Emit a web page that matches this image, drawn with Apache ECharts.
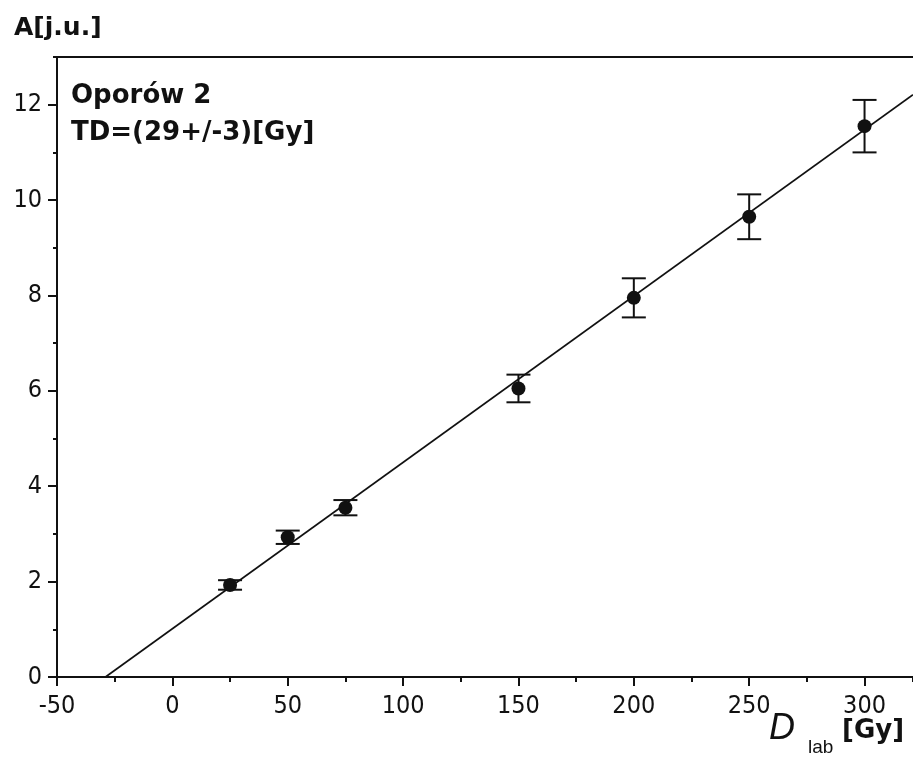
<!DOCTYPE html>
<html><head><meta charset="utf-8">
<script src="https://cdn.jsdelivr.net/npm/echarts@6/dist/echarts.min.js"></script>
<style>html,body{margin:0;padding:0;background:#fff}#c{width:913px;height:760px}</style>
</head><body><div id="c"></div>
<script>
// Data
const doses = [25, 50, 75, 150, 200, 250, 300];
const activity = [1.93, 2.93, 3.55, 6.05, 7.95, 9.65, 11.55];
const errors = [0.10, 0.14, 0.16, 0.29, 0.41, 0.47, 0.55];
const fitX = [-29, 321];
const fitY = [0, 12.21];
const xTicks = [-50, 0, 50, 100, 150, 200, 250, 300];
const yTicks = [0, 2, 4, 6, 8, 10, 12];

const INK = '#111';
const tickFont = {fontFamily: '"Liberation Sans Narrow","DejaVu Sans Condensed",sans-serif', fontSize: 25, color: INK};

const chart = echarts.init(document.getElementById('c'), null, {renderer: 'canvas'});

const xBase = {type: 'value', min: -50, max: 321, gridIndex: 0, splitLine: {show: false}};
const yBase = {type: 'value', min: 0, max: 13, gridIndex: 0, splitLine: {show: false}};

chart.setOption({
  animation: false,
  backgroundColor: '#fff',
  grid: {left: 57, top: 57, right: 0, bottom: 83, containLabel: false},
  xAxis: [
    Object.assign({}, xBase, {
      position: 'bottom',
      axisLine: {onZero: false, lineStyle: {color: INK, width: 2}},
      axisTick: {show: true, customValues: xTicks, length: 9, lineStyle: {color: INK, width: 2}},
      axisLabel: Object.assign({customValues: xTicks, margin: 17}, tickFont)
    }),
    Object.assign({}, xBase, {
      position: 'bottom', interval: 25,
      axisLine: {show: false, onZero: false},
      axisTick: {show: true, length: 5, lineStyle: {color: INK, width: 2}},
      axisLabel: {show: false}
    }),
    Object.assign({}, xBase, {
      position: 'top',
      axisLine: {show: true, onZero: false, lineStyle: {color: INK, width: 2}},
      axisTick: {show: false}, axisLabel: {show: false}
    })
  ],
  yAxis: [
    Object.assign({}, yBase, {
      position: 'left',
      axisLine: {show: true, onZero: false, lineStyle: {color: INK, width: 2}},
      axisTick: {show: true, customValues: yTicks, length: 9, lineStyle: {color: INK, width: 2}},
      axisLabel: Object.assign({customValues: yTicks, margin: 15}, tickFont)
    }),
    Object.assign({}, yBase, {
      position: 'left', interval: 1,
      axisLine: {show: false, onZero: false},
      axisTick: {show: true, length: 4, lineStyle: {color: INK, width: 2}},
      axisLabel: {show: false}
    })
  ],
  series: [
    {
      type: 'line', xAxisIndex: 0, yAxisIndex: 0,
      data: fitX.map((x, i) => [x, fitY[i]]),
      showSymbol: false, symbol: 'none',
      lineStyle: {color: INK, width: 1.7}, z: 2
    },
    {
      type: 'custom', xAxisIndex: 0, yAxisIndex: 0,
      data: doses.map((d, i) => [d, activity[i] - errors[i], activity[i] + errors[i]]),
      renderItem: function (params, api) {
        const lo = api.coord([api.value(0), api.value(1)]);
        const hi = api.coord([api.value(0), api.value(2)]);
        const hw = 12;
        const st = {stroke: INK, lineWidth: 2};
        return {type: 'group', children: [
          {type: 'line', shape: {x1: lo[0], y1: lo[1], x2: hi[0], y2: hi[1]}, style: st},
          {type: 'line', shape: {x1: lo[0] - hw, y1: lo[1], x2: lo[0] + hw, y2: lo[1]}, style: st},
          {type: 'line', shape: {x1: hi[0] - hw, y1: hi[1], x2: hi[0] + hw, y2: hi[1]}, style: st}
        ]};
      },
      z: 3
    },
    {
      type: 'scatter', xAxisIndex: 0, yAxisIndex: 0,
      data: doses.map((d, i) => [d, activity[i]]),
      symbol: 'circle', symbolSize: 14,
      itemStyle: {color: INK, opacity: 1}, z: 4
    }
  ],
  graphic: [
    {type: 'text', left: 14, top: 16, style: {text: 'A[j.u.]', font: 'bold 25px "DejaVu Sans"', fill: INK}},
    {type: 'text', left: 71, top: 83, style: {text: 'Oporów 2', font: 'bold 26px "DejaVu Sans"', fill: INK}},
    {type: 'text', left: 71, top: 120, style: {text: 'TD=(29+/-3)[Gy]', font: 'bold 26px "DejaVu Sans"', fill: INK}},
    {type: 'text', left: 769, top: 711, style: {text: 'D', font: 'italic 36px "Liberation Sans"', fill: INK}},
    {type: 'text', left: 808, top: 738, style: {text: 'lab', font: '19px "Liberation Sans"', fill: INK}},
    {type: 'text', left: 842, top: 718, style: {text: '[Gy]', font: 'bold 26px "DejaVu Sans"', fill: INK}}
  ]
});
</script></body></html>
